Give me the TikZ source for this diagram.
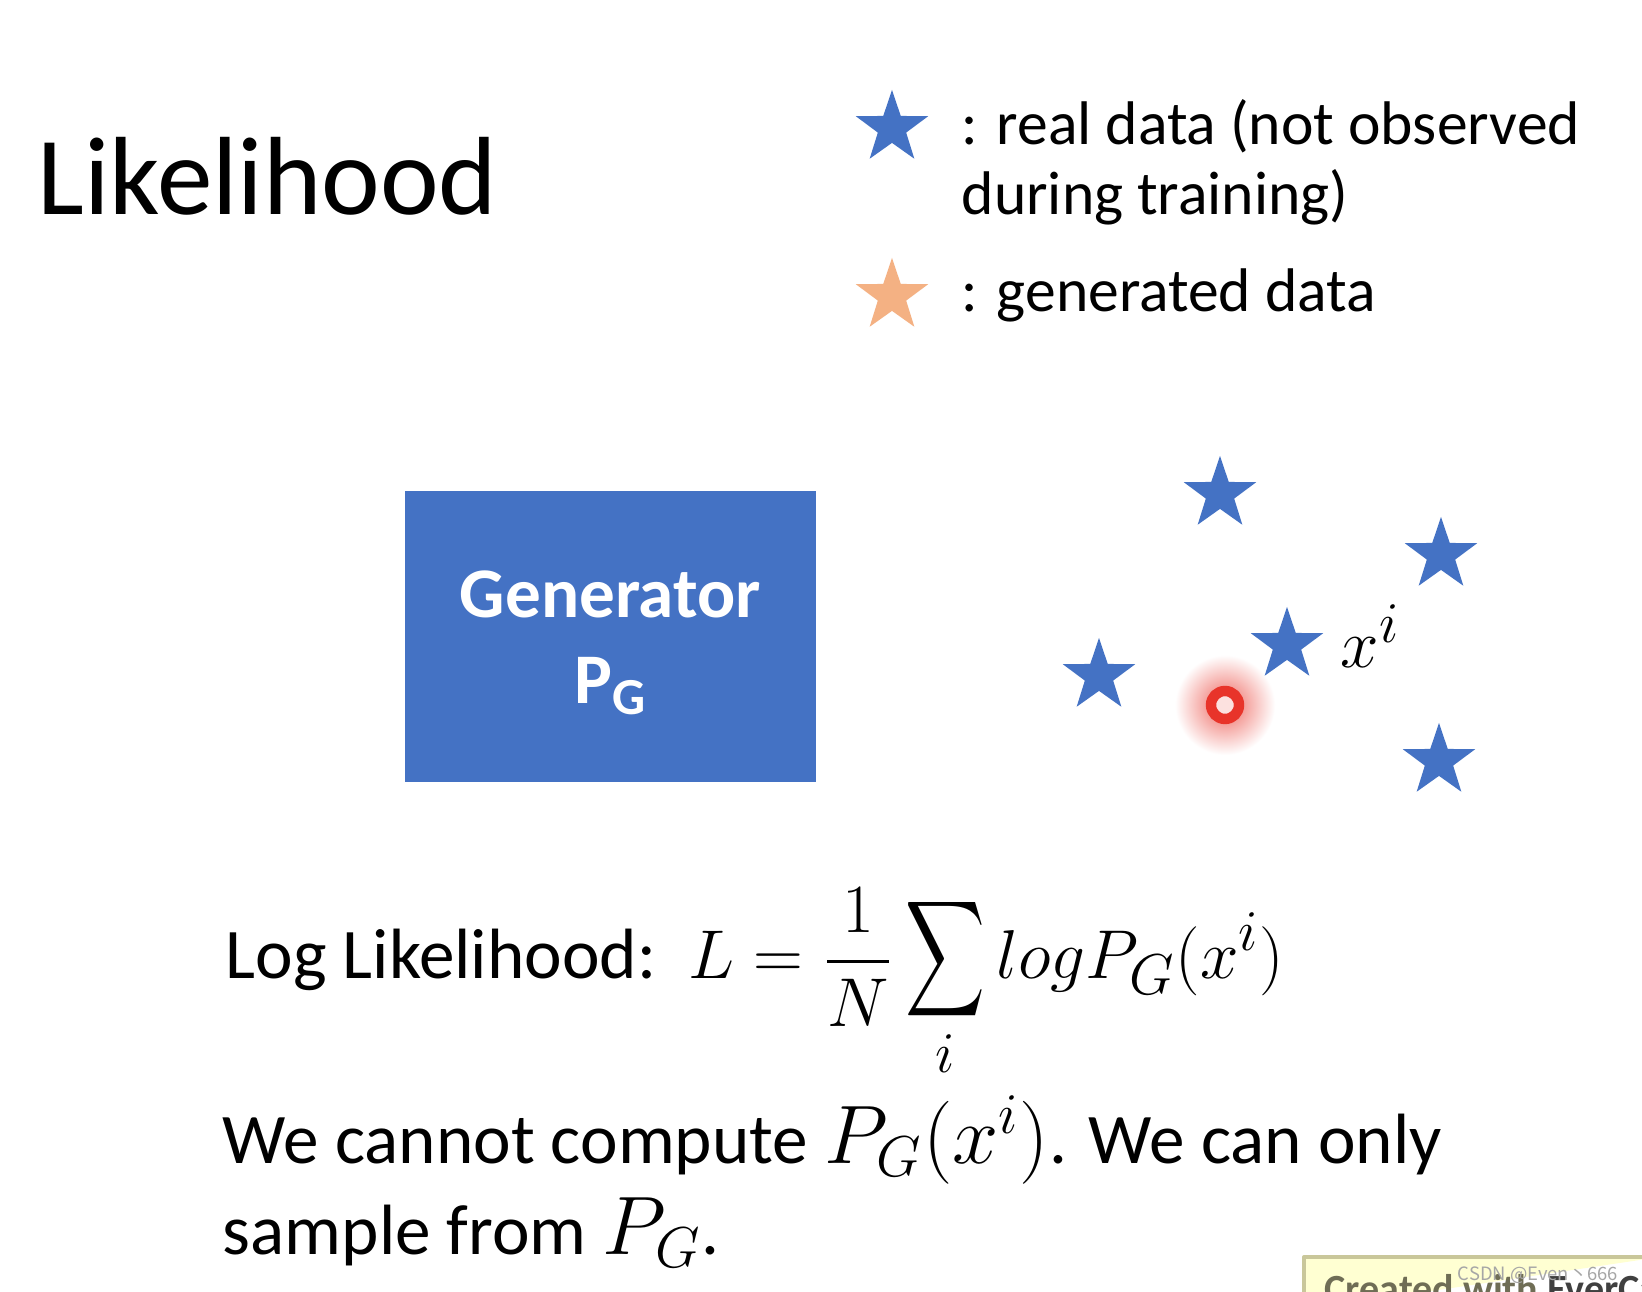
\documentclass[tikz,border=0pt]{standalone}
\usepackage{amsmath}
\usepackage{exscale}
\usepackage{graphicx}
\usepackage{fontspec}
\setmainfont{Carlito}
\newfontfamily\cjkfont{Noto Sans CJK SC}
\usetikzlibrary{shapes.geometric}
\definecolor{realblue}{HTML}{4472C4}
\definecolor{genorange}{HTML}{F4B183}
\definecolor{dotred}{HTML}{E8342A}
\definecolor{tagyellow}{HTML}{FFFFD2}
\definecolor{tagline}{HTML}{C9C79A}
\newcommand\mathbig[2][19.5]{{\fontsize{#1}{24}\selectfont#2}}

\begin{document}
\begin{tikzpicture}[x=0.25pt,y=-0.25pt,line cap=round,line join=round,
  datastar/.style={star,star points=5,star point ratio=2.55,minimum size=19pt,inner sep=0pt,fill=realblue},
  legtext/.style={anchor=base west,inner sep=0pt,font=\fontsize{15.4}{18}\selectfont},
  bodytext/.style={anchor=base west,inner sep=0pt,font=\fontsize{17.8}{21}\selectfont}]
  \useasboundingbox[fill=white] (0,0) rectangle (1642,1292);
  \coordinate (G) at (610.5,636.5);
  \coordinate (X) at (1225,705);
  % title and legend
  \node[anchor=base west,inner sep=0pt,font=\fontsize{27.8}{33}\selectfont] (title) at (37,215) {Likelihood};
  \node[datastar] (legreal) at (892,128) {};
  \node[datastar,fill=genorange] (leggen) at (892,296) {};
  \node[legtext] (realtext) at (961,145) {: real data (not observed};
  \node[legtext] (realtextb) at (961,215) {during training)};
  \node[legtext] (gentext) at (961,312) {: generated data};
  % generator
  \node[fill=realblue,minimum width=102.75pt,minimum height=72.75pt,inner sep=0pt] (gen) at (G) {};
  \node[anchor=base,inner sep=0pt,text=white,font=\bfseries\fontsize{17.8}{21}\selectfont] (genname) at (610.5,618) {Generator};
  \node[anchor=base,inner sep=0pt,text=white,font=\bfseries\fontsize{17.8}{21}\selectfont] (genpg) at (610.5,704) {P\raisebox{-0.3ex}{\fontsize{13}{15}\selectfont G}};
  % samples
  \shade[inner color=dotred!75,outer color=white] (X) circle (50);
  \node[datastar] (s1) at (1220,494) {};
  \node[datastar] (s2) at (1441,555) {};
  \node[datastar] (s3) at (1287,645) {};
  \node[datastar] (s4) at (1099,676) {};
  \node[datastar] (s5) at (1439,761) {};
  \node[circle,draw=dotred,line width=2.6pt,fill=dotred!15,minimum size=7pt,inner sep=0pt] (dot) at (X) {};
  \node[anchor=base west,inner sep=0pt,font=\fontsize{19}{22}\selectfont] (xi) at (1340,668) {$x^i$};
  % likelihood
  \node[bodytext] (loglik) at (225,979) {Log Likelihood:\hspace{0.45em}\mathbig[19]{$\displaystyle L=\frac{1}{N}\mathop{\scalebox{0.8}[1.17]{$\displaystyle\sum$}}\limits_i logP_G(x^i)$}};
  \node[bodytext] (cannot) at (222,1164) {We cannot compute \mathbig{$P_G(x^i)$}. We can only};
  \node[bodytext] (sample) at (222,1255) {sample from \mathbig{$P_G$}.};
  % tag
  \begin{scope}
    \clip (0,0) rectangle (1642,1292);
    \draw[tagline,fill=tagyellow,line width=1pt] (1304,1310) -- (1304,1257) -- (1660,1257);
    \node[anchor=base west,inner sep=0pt,text=black!45!tagline,font=\bfseries\fontsize{10}{12}\selectfont] (tag) at (1324,1303) {Created with \textcolor{black!75}{EverCam}};
    \node[anchor=base west,inner sep=0pt,text=gray!70,font=\cjkfont\fontsize{4.6}{6}\selectfont] (mark) at (1457,1281) {CSDN @Even丶666};
  \end{scope}
\end{tikzpicture}
\end{document}
